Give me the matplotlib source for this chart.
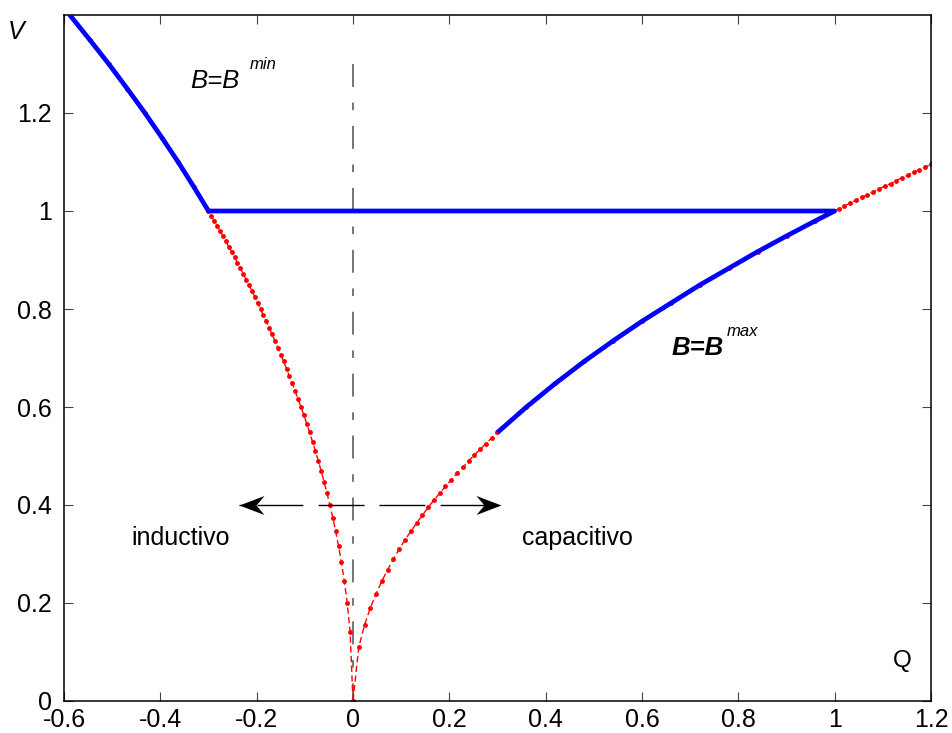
import matplotlib
matplotlib.use("Agg")
import matplotlib.pyplot as plt
from matplotlib.path import Path

plt.rcParams['font.family'] = ['Liberation Sans', 'DejaVu Sans']

# ---- data ----
# inductive branch (red dotted), Q vs V
q_ind = [0.0, -0.006, -0.012, -0.018, -0.024, -0.030, -0.036, -0.042, -0.048, -0.054,
         -0.060, -0.066, -0.072, -0.078, -0.084, -0.090, -0.096, -0.102, -0.108, -0.114,
         -0.120, -0.126, -0.132, -0.138, -0.144, -0.150, -0.156, -0.162, -0.168, -0.174,
         -0.180, -0.186, -0.192, -0.198, -0.204, -0.210, -0.216, -0.222, -0.228, -0.234,
         -0.240, -0.246, -0.252, -0.258, -0.264, -0.270, -0.276, -0.282, -0.288, -0.294,
         -0.300, -0.331, -0.363, -0.397, -0.432, -0.469, -0.507, -0.547, -0.588]
v_ind = [0.0, 0.141, 0.200, 0.245, 0.283, 0.316, 0.346, 0.374, 0.400, 0.424,
         0.447, 0.469, 0.490, 0.510, 0.529, 0.548, 0.566, 0.583, 0.600, 0.616,
         0.632, 0.648, 0.663, 0.678, 0.693, 0.707, 0.721, 0.735, 0.748, 0.762,
         0.775, 0.787, 0.800, 0.812, 0.825, 0.837, 0.849, 0.860, 0.872, 0.883,
         0.894, 0.906, 0.917, 0.927, 0.938, 0.949, 0.959, 0.970, 0.980, 0.990,
         1.000, 1.050, 1.100, 1.150, 1.200, 1.250, 1.300, 1.350, 1.400]

# capacitive branch (red dotted)
q_cap = [0.0, 0.012, 0.024, 0.036, 0.048, 0.060, 0.072, 0.084, 0.096, 0.108,
         0.120, 0.132, 0.144, 0.156, 0.168, 0.180, 0.192, 0.204, 0.216, 0.228,
         0.240, 0.252, 0.264, 0.276, 0.288, 0.300,
         0.360, 0.420, 0.480, 0.540, 0.600, 0.660, 0.720, 0.780, 0.840, 0.900, 0.960,
         1.008, 1.020, 1.032, 1.044, 1.056, 1.068, 1.080, 1.092, 1.104, 1.116,
         1.128, 1.140, 1.152, 1.164, 1.176, 1.188, 1.200]
v_cap = [0.0, 0.110, 0.155, 0.190, 0.219, 0.245, 0.268, 0.290, 0.310, 0.329,
         0.346, 0.363, 0.379, 0.395, 0.410, 0.424, 0.438, 0.452, 0.465, 0.477,
         0.490, 0.502, 0.514, 0.525, 0.537, 0.548,
         0.600, 0.648, 0.693, 0.735, 0.775, 0.812, 0.849, 0.883, 0.917, 0.949, 0.980,
         1.004, 1.010, 1.016, 1.022, 1.028, 1.033, 1.039, 1.045, 1.051, 1.056,
         1.062, 1.068, 1.073, 1.079, 1.084, 1.090, 1.095]

# SVC characteristic (blue)
q_svc = [-0.588, -0.547, -0.507, -0.469, -0.432, -0.397, -0.363, -0.331, -0.300,
         1.000, 0.960, 0.900, 0.840, 0.780, 0.720, 0.660, 0.600, 0.540, 0.480,
         0.420, 0.360, 0.300]
v_svc = [1.400, 1.350, 1.300, 1.250, 1.200, 1.150, 1.100, 1.050, 1.000,
         1.000, 0.980, 0.949, 0.917, 0.883, 0.849, 0.812, 0.775, 0.735, 0.693,
         0.648, 0.600, 0.548]

x_ticks = [-0.6, -0.4, -0.2, 0, 0.2, 0.4, 0.6, 0.8, 1, 1.2]
x_ticklabels = ['-0.6', '-0.4', '-0.2', '0', '0.2', '0.4', '0.6', '0.8', '1', '1.2']
y_ticks = [0, 0.2, 0.4, 0.6, 0.8, 1, 1.2]
y_ticklabels = ['0', '0.2', '0.4', '0.6', '0.8', '1', '1.2']

zero_line_v = [0.0, 1.30]
arrow_v = 0.40
arrow_left = (0.023, -0.236)   # (start, tip)
arrow_right = (0.054, 0.308)

# ---- figure ----
fig = plt.figure(figsize=(9.53, 7.33), dpi=100)
ax = fig.add_axes([64 / 953, 1 - 701 / 733, 867 / 953, 686 / 733])

ax.plot(q_ind, v_ind, color='red', lw=1.0, linestyle=(0, (4.5, 2.5)),
        marker='o', markersize=3.5, markeredgewidth=0, zorder=2)
ax.plot(q_cap, v_cap, color='red', lw=1.0, linestyle=(0, (4.5, 2.5)),
        marker='o', markersize=3.5, markeredgewidth=0, zorder=2)
ax.plot(q_svc, v_svc, color='#0000ff', lw=3.4, solid_joinstyle='round',
        solid_capstyle='butt', zorder=3)

# vertical dash-dot line at Q = 0 (drawn top to bottom)
ax.plot([0, 0], [zero_line_v[1], zero_line_v[0]], color='#6a6a6a', lw=1.3,
        linestyle=(0, (12.7, 8.7, 4.2, 8.7)), zorder=1)

# arrows
head_r = Path([(0, 0), (-1, 0.38), (-0.68, 0), (-1, -0.38), (0, 0)],
              [Path.MOVETO, Path.LINETO, Path.LINETO, Path.LINETO, Path.CLOSEPOLY])
head_l = Path([(0, 0), (1, 0.38), (0.68, 0), (1, -0.38), (0, 0)],
              [Path.MOVETO, Path.LINETO, Path.LINETO, Path.LINETO, Path.CLOSEPOLY])
ax.plot([arrow_left[0], arrow_left[1]], [arrow_v, arrow_v], color='black', lw=1.0,
        linestyle=(0, (33, 11)), zorder=4)
ax.plot([arrow_right[0], arrow_right[1]], [arrow_v, arrow_v], color='black', lw=1.0,
        linestyle=(0, (33, 11)), zorder=4)
ax.plot([arrow_left[1]], [arrow_v], marker=head_l, markersize=36, color='black',
        markeredgewidth=0, zorder=5)
ax.plot([arrow_right[1]], [arrow_v], marker=head_r, markersize=36, color='black',
        markeredgewidth=0, zorder=5)

ax.set_xlim(-0.6, 1.2)
ax.set_ylim(0, 1.4)
ax.set_xticks(x_ticks)
ax.set_xticklabels(x_ticklabels)
ax.set_yticks(y_ticks)
ax.set_yticklabels(y_ticklabels)
ax.tick_params(direction='in', length=6.5, width=0.8, top=True, right=True,
               labelsize=18, color='#444444')
ax.tick_params(axis='x', pad=5)
ax.tick_params(axis='y', pad=8.5)
for s in ax.spines.values():
    s.set_linewidth(1.1)

# texts
ax.text(-0.461, 0.318, 'inductivo', fontsize=18, ha='left', va='baseline')
ax.text(0.350, 0.318, 'capacitivo', fontsize=18, ha='left', va='baseline')
ax.text(-0.339, 1.252, 'B=B', fontsize=18.5, style='italic', ha='left', va='baseline')
ax.text(-0.214, 1.290, 'min', fontsize=12, style='italic', ha='left', va='baseline')
ax.text(0.661, 0.706, 'B=B', fontsize=18.5, style='italic', weight='bold',
        ha='left', va='baseline')
ax.text(0.776, 0.744, 'max', fontsize=12, style='italic', ha='left', va='baseline')
ax.text(-0.716, 1.352, 'V', fontsize=18, style='italic', ha='left', va='baseline',
        clip_on=False)
ax.text(1.12, 0.069, 'Q', fontsize=17.5, ha='left', va='baseline')

fig.savefig('out.png', dpi=100)
